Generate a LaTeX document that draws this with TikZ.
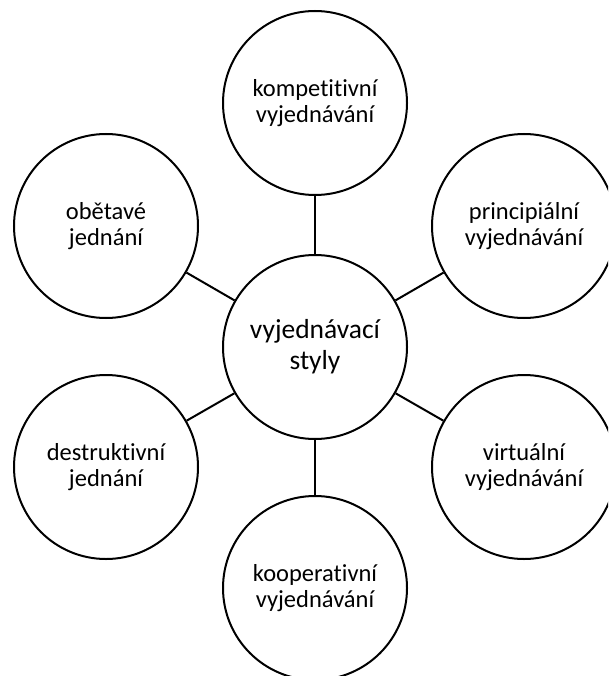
\documentclass[tikz,border=0pt]{standalone}
\usepackage{fontspec}
\setmainfont{Carlito}[Ligatures=NoCommon]
\begin{document}
\begin{tikzpicture}[x=1pt,y=-1pt,
  bub/.style={circle,draw=black,line width=2pt,minimum size=184pt,inner sep=0pt,align=center,font=\fontsize{24.5}{26.5}\selectfont},
  hub/.style={bub,font=\fontsize{27.5}{31}\selectfont},
  link/.style={draw=black,line width=2pt}]
\useasboundingbox (0,0) rectangle (608,676);
\clip (0,0) rectangle (608,676);
\fill[white] (0,0) rectangle (608,676);
\node[hub] (c) at (315,347) {vyjednávací\\styly};
\node[bub] (t) at (315,103) {kompetitivní\\vyjednávání};
\node[bub] (b) at (315,588) {kooperativní\\vyjednávání};
\node[bub] (ul) at (106,226) {obětavé\\jednání};
\node[bub] (ur) at (524,226) {principiální\\vyjednávání};
\node[bub] (ll) at (106,467) {destruktivní\\jednání};
\node[bub] (lr) at (524,467) {virtuální\\vyjednávání};
\draw[link] (c) -- (t);
\draw[link] (c) -- (b);
\draw[link] (c) -- (ul);
\draw[link] (c) -- (ur);
\draw[link] (c) -- (ll);
\draw[link] (c) -- (lr);
\end{tikzpicture}
\end{document}
